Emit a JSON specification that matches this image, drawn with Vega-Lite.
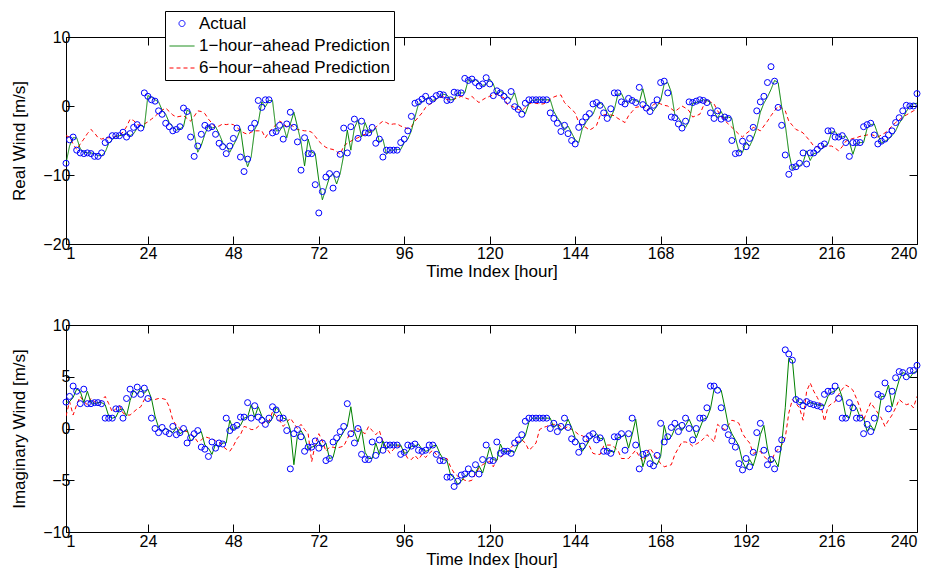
{
"$schema": "https://vega.github.io/schema/vega-lite/v6.json",
"background": "white",
"padding": {"left": 9, "top": 10, "right": 8, "bottom": 5},
"spacing": 36,
"datasets": {
"real": [
{"t":1,"a":-8.3,"g":-8.3,"r":-4.3},{"t":2,"a":-4.9,"g":-5.8,"r":-4.5},{"t":3,"a":-4.5,"g":-4.6,"r":-5.5},{"t":4,"a":-6.4,"g":-4.6,"r":-6.3},{"t":5,"a":-6.8,"g":-6.2,"r":-5.5},
{"t":6,"a":-6.9,"g":-6.7,"r":-4.8},{"t":7,"a":-6.8,"g":-6.8,"r":-4.0},{"t":8,"a":-6.9,"g":-6.8,"r":-3.4},{"t":9,"a":-7.3,"g":-6.9,"r":-3.9},{"t":10,"a":-7.3,"g":-7.2,"r":-4.6},
{"t":11,"a":-6.8,"g":-7.2,"r":-4.8},{"t":12,"a":-5.3,"g":-6.7,"r":-4.6},{"t":13,"a":-4.9,"g":-5.4,"r":-4.6},{"t":14,"a":-4.3,"g":-4.9,"r":-4.6},{"t":15,"a":-4.3,"g":-4.4,"r":-4.4},
{"t":16,"a":-4.3,"g":-4.3,"r":-4.2},{"t":17,"a":-3.8,"g":-4.2,"r":-3.8},{"t":18,"a":-4.5,"g":-3.9,"r":-3.0},{"t":19,"a":-4.0,"g":-4.3,"r":-1.9},{"t":20,"a":-3.1,"g":-4.0,"r":-2.1},
{"t":21,"a":-2.7,"g":-3.2,"r":-2.7},{"t":22,"a":-3.2,"g":-2.8,"r":-2.8},{"t":23,"a":1.9,"g":-3.1,"r":-2.6},{"t":24,"a":1.4,"g":1.5,"r":-2.3},{"t":25,"a":0.9,"g":1.3,"r":-1.9},
{"t":26,"a":0.7,"g":0.9,"r":-1.5},{"t":27,"a":-0.7,"g":0.6,"r":-1.0},{"t":28,"a":-1.2,"g":-0.6,"r":-0.6},{"t":29,"a":-2.5,"g":-1.2,"r":-0.3},{"t":30,"a":-3.0,"g":-2.4,"r":-0.8},
{"t":31,"a":-3.6,"g":-3.0,"r":-1.3},{"t":32,"a":-3.4,"g":-3.5,"r":-1.6},{"t":33,"a":-3.0,"g":-3.3,"r":-1.5},{"t":34,"a":-0.3,"g":-3.0,"r":-1.4},{"t":35,"a":-0.8,"g":-0.6,"r":-1.8},
{"t":36,"a":-4.5,"g":-0.9,"r":-2.2},{"t":37,"a":-7.3,"g":-4.1,"r":-1.5},{"t":38,"a":-5.8,"g":-6.7,"r":-0.7},{"t":39,"a":-4.1,"g":-5.7,"r":-0.8},{"t":40,"a":-2.8,"g":-4.1,"r":-1.1},
{"t":41,"a":-3.2,"g":-2.9,"r":-1.9},{"t":42,"a":-3.0,"g":-3.2,"r":-2.5},{"t":43,"a":-4.1,"g":-3.0,"r":-3.1},{"t":44,"a":-5.4,"g":-4.0,"r":-2.9},{"t":45,"a":-5.9,"g":-5.3,"r":-2.6},
{"t":46,"a":-6.9,"g":-5.8,"r":-2.7},{"t":47,"a":-5.8,"g":-6.7,"r":-2.6},{"t":48,"a":-4.7,"g":-5.7,"r":-2.7},{"t":49,"a":-3.2,"g":-4.7,"r":-3.1},{"t":50,"a":-7.4,"g":-3.3,"r":-3.6},
{"t":51,"a":-9.5,"g":-7.0,"r":-3.9},{"t":52,"a":-7.7,"g":-8.8,"r":-4.1},{"t":53,"a":-3.2,"g":-7.4,"r":-3.8},{"t":54,"a":-2.5,"g":-3.4,"r":-3.6},{"t":55,"a":0.8,"g":-2.4,"r":-3.6},
{"t":56,"a":-0.2,"g":0.6,"r":-3.6},{"t":57,"a":0.9,"g":-0.1,"r":-4.6},{"t":58,"a":0.9,"g":0.8,"r":-3.8},{"t":59,"a":-3.9,"g":0.8,"r":-3.2},{"t":60,"a":-3.7,"g":-3.6,"r":-2.7},
{"t":61,"a":-2.8,"g":-3.6,"r":-2.2},{"t":62,"a":-4.8,"g":-2.8,"r":-2.5},{"t":63,"a":-2.6,"g":-4.6,"r":-3.0},{"t":64,"a":-0.9,"g":-2.6,"r":-2.7},{"t":65,"a":-3.1,"g":-0.9,"r":-3.0},
{"t":66,"a":-5.2,"g":-3.0,"r":-3.4},{"t":67,"a":-9.3,"g":-5.2,"r":-3.5},{"t":68,"a":-4.6,"g":-8.7,"r":-3.6},{"t":69,"a":-6.9,"g":-4.8,"r":-3.6},{"t":70,"a":-6.9,"g":-6.7,"r":-3.8},
{"t":71,"a":-11.4,"g":-6.9,"r":-4.4},{"t":72,"a":-15.5,"g":-10.8,"r":-5.1},{"t":73,"a":-12.4,"g":-13.6,"r":-5.6},{"t":74,"a":-10.3,"g":-12.0,"r":-6.0},{"t":75,"a":-9.8,"g":-10.3,"r":-6.2},
{"t":76,"a":-11.9,"g":-9.8,"r":-6.3},{"t":77,"a":-9.9,"g":-11.3,"r":-6.6},{"t":78,"a":-7.0,"g":-9.8,"r":-7.0},{"t":79,"a":-3.2,"g":-7.1,"r":-5.8},{"t":80,"a":-6.8,"g":-3.5,"r":-5.4},
{"t":81,"a":-3.0,"g":-6.4,"r":-5.1},{"t":82,"a":-1.9,"g":-3.2,"r":-4.8},{"t":83,"a":-4.7,"g":-2.0,"r":-4.6},{"t":84,"a":-2.2,"g":-4.5,"r":-4.3},{"t":85,"a":-3.9,"g":-2.4,"r":-4.1},
{"t":86,"a":-3.9,"g":-3.8,"r":-3.9},{"t":87,"a":-3.1,"g":-3.8,"r":-3.5},{"t":88,"a":-5.4,"g":-3.2,"r":-3.1},{"t":89,"a":-4.8,"g":-5.2,"r":-2.6},{"t":90,"a":-7.4,"g":-4.8,"r":-2.2},
{"t":91,"a":-6.4,"g":-7.0,"r":-2.4},{"t":92,"a":-6.4,"g":-6.4,"r":-2.7},{"t":93,"a":-6.4,"g":-6.4,"r":-2.6},{"t":94,"a":-6.4,"g":-6.3,"r":-2.6},{"t":95,"a":-5.3,"g":-6.3,"r":-2.9},
{"t":96,"a":-4.8,"g":-5.3,"r":-3.1},{"t":97,"a":-3.6,"g":-4.8,"r":-3.3},{"t":98,"a":-1.5,"g":-3.6,"r":-3.0},{"t":99,"a":0.4,"g":-1.6,"r":-2.2},{"t":100,"a":0.6,"g":0.3,"r":-1.6},
{"t":101,"a":1.0,"g":0.6,"r":-1.0},{"t":102,"a":1.4,"g":1.0,"r":-0.2},{"t":103,"a":0.7,"g":1.3,"r":0.2},{"t":104,"a":1.0,"g":0.8,"r":0.5},{"t":105,"a":1.5,"g":1.0,"r":1.0},
{"t":106,"a":1.7,"g":1.5,"r":1.2},{"t":107,"a":1.6,"g":1.7,"r":1.4},{"t":108,"a":0.8,"g":1.6,"r":0.9},{"t":109,"a":0.9,"g":0.9,"r":0.9},{"t":110,"a":2.0,"g":0.9,"r":1.0},
{"t":111,"a":1.9,"g":1.9,"r":1.2},{"t":112,"a":1.9,"g":1.9,"r":1.4},{"t":113,"a":4.0,"g":1.9,"r":1.2},{"t":114,"a":3.7,"g":3.8,"r":1.0},{"t":115,"a":3.9,"g":3.7,"r":1.4},
{"t":116,"a":3.4,"g":3.8,"r":0.9},{"t":117,"a":2.9,"g":3.4,"r":0.5},{"t":118,"a":3.2,"g":3.0,"r":0.9},{"t":119,"a":4.1,"g":3.1,"r":1.2},{"t":120,"a":3.2,"g":3.9,"r":1.4},
{"t":121,"a":1.5,"g":3.2,"r":1.6},{"t":122,"a":2.2,"g":1.7,"r":1.7},{"t":123,"a":1.9,"g":2.1,"r":1.4},{"t":124,"a":1.4,"g":1.9,"r":1.2},{"t":125,"a":0.8,"g":1.4,"r":0.2},
{"t":126,"a":2.1,"g":0.9,"r":0.0},{"t":127,"a":-0.1,"g":1.9,"r":-0.2},{"t":128,"a":-0.5,"g":0.0,"r":-0.5},{"t":129,"a":-1.2,"g":-0.5,"r":-0.7},{"t":130,"a":0.4,"g":-1.1,"r":-0.2},
{"t":131,"a":0.9,"g":0.3,"r":0.3},{"t":132,"a":0.9,"g":0.8,"r":0.5},{"t":133,"a":0.9,"g":0.9,"r":0.4},{"t":134,"a":0.9,"g":0.9,"r":0.3},{"t":135,"a":0.9,"g":0.9,"r":0.3},
{"t":136,"a":0.9,"g":0.9,"r":0.5},{"t":137,"a":-1.0,"g":0.9,"r":1.0},{"t":138,"a":-1.8,"g":-0.8,"r":1.3},{"t":139,"a":-2.5,"g":-1.7,"r":1.5},{"t":140,"a":-3.7,"g":-2.4,"r":1.6},
{"t":141,"a":-2.8,"g":-3.5,"r":0.5},{"t":142,"a":-4.0,"g":-2.9,"r":0.0},{"t":143,"a":-5.0,"g":-3.9,"r":-0.5},{"t":144,"a":-5.5,"g":-4.9,"r":-1.0},{"t":145,"a":-3.1,"g":-5.3,"r":-2.4},
{"t":146,"a":-2.3,"g":-3.3,"r":-2.9},{"t":147,"a":-1.6,"g":-2.4,"r":-3.1},{"t":148,"a":-1.1,"g":-1.7,"r":-3.5},{"t":149,"a":0.3,"g":-1.2,"r":-3.2},{"t":150,"a":0.5,"g":0.1,"r":-2.8},
{"t":151,"a":0.1,"g":0.4,"r":-1.4},{"t":152,"a":-1.0,"g":0.1,"r":-1.3},{"t":153,"a":-1.8,"g":-0.9,"r":-1.2},{"t":154,"a":-0.4,"g":-1.7,"r":-1.3},{"t":155,"a":1.9,"g":-0.5,"r":-1.4},
{"t":156,"a":1.9,"g":1.7,"r":-1.8},{"t":157,"a":0.6,"g":1.8,"r":-2.1},{"t":158,"a":0.3,"g":0.7,"r":-2.4},{"t":159,"a":1.1,"g":0.4,"r":-1.4},{"t":160,"a":0.8,"g":1.0,"r":-0.8},
{"t":161,"a":0.5,"g":0.8,"r":-0.2},{"t":162,"a":2.7,"g":0.5,"r":-0.1},{"t":163,"a":0.2,"g":2.5,"r":0.0},{"t":164,"a":-0.3,"g":0.3,"r":-0.6},{"t":165,"a":-0.8,"g":-0.2,"r":-0.3},
{"t":166,"a":0.1,"g":-0.7,"r":0.2},{"t":167,"a":0.9,"g":0.0,"r":0.5},{"t":168,"a":3.4,"g":0.8,"r":0.3},{"t":169,"a":3.6,"g":3.2,"r":0.1},{"t":170,"a":1.9,"g":3.4,"r":0.0},
{"t":171,"a":-1.6,"g":2.0,"r":-0.4},{"t":172,"a":-1.7,"g":-1.3,"r":-0.8},{"t":173,"a":-2.6,"g":-1.7,"r":-0.4},{"t":174,"a":-3.2,"g":-2.5,"r":0.0},{"t":175,"a":-2.2,"g":-3.1,"r":-0.3},
{"t":176,"a":0.6,"g":-2.2,"r":-0.7},{"t":177,"a":0.5,"g":0.4,"r":-1.6},{"t":178,"a":0.7,"g":0.5,"r":-1.4},{"t":179,"a":0.9,"g":0.7,"r":-1.2},{"t":180,"a":0.8,"g":0.9,"r":0.0},
{"t":181,"a":0.5,"g":0.8,"r":1.0},{"t":182,"a":-1.0,"g":0.5,"r":0.6},{"t":183,"a":-1.8,"g":-0.9,"r":0.3},{"t":184,"a":-0.7,"g":-1.7,"r":-0.7},{"t":185,"a":-1.9,"g":-0.8,"r":-1.4},
{"t":186,"a":-1.6,"g":-1.8,"r":-2.1},{"t":187,"a":-1.8,"g":-1.6,"r":-2.6},{"t":188,"a":-5.0,"g":-1.8,"r":-3.1},{"t":189,"a":-6.9,"g":-4.6,"r":-3.6},{"t":190,"a":-6.8,"g":-6.6,"r":-4.1},
{"t":191,"a":-5.1,"g":-6.7,"r":-4.5},{"t":192,"a":-5.9,"g":-5.2,"r":-4.0},{"t":193,"a":-4.7,"g":-5.8,"r":-3.6},{"t":194,"a":-3.1,"g":-4.7,"r":-3.1},{"t":195,"a":-0.7,"g":-3.2,"r":-3.3},
{"t":196,"a":0.6,"g":-0.9,"r":-3.6},{"t":197,"a":1.4,"g":0.4,"r":-2.9},{"t":198,"a":3.4,"g":1.3,"r":-2.2},{"t":199,"a":5.7,"g":2.4,"r":-1.4},{"t":200,"a":3.6,"g":3.7,"r":-0.7},
{"t":201,"a":-0.2,"g":3.4,"r":0.0},{"t":202,"a":-2.8,"g":-0.1,"r":-0.3},{"t":203,"a":-7.1,"g":-2.7,"r":-0.7},{"t":204,"a":-9.9,"g":-6.7,"r":-2.2},{"t":205,"a":-8.9,"g":-9.2,"r":-2.8},
{"t":206,"a":-8.8,"g":-8.7,"r":-3.4},{"t":207,"a":-8.3,"g":-8.7,"r":-3.6},{"t":208,"a":-6.8,"g":-8.2,"r":-3.9},{"t":209,"a":-8.4,"g":-6.5,"r":-4.5},{"t":210,"a":-6.8,"g":-7.9,"r":-5.1},
{"t":211,"a":-6.8,"g":-6.9,"r":-5.8},{"t":212,"a":-6.3,"g":-6.8,"r":-5.9},{"t":213,"a":-5.8,"g":-6.3,"r":-6.0},{"t":214,"a":-5.5,"g":-5.8,"r":-5.9},{"t":215,"a":-3.6,"g":-5.5,"r":-5.8},
{"t":216,"a":-3.6,"g":-3.8,"r":-5.8},{"t":217,"a":-4.5,"g":-3.7,"r":-6.1},{"t":218,"a":-4.5,"g":-4.4,"r":-6.5},{"t":219,"a":-4.3,"g":-4.5,"r":-5.9},{"t":220,"a":-5.3,"g":-4.3,"r":-5.1},
{"t":221,"a":-7.3,"g":-5.2,"r":-4.9},{"t":222,"a":-5.3,"g":-7.0,"r":-4.7},{"t":223,"a":-5.3,"g":-5.4,"r":-4.6},{"t":224,"a":-5.3,"g":-5.3,"r":-4.4},{"t":225,"a":-3.0,"g":-5.3,"r":-4.3},
{"t":226,"a":-2.7,"g":-3.2,"r":-4.2},{"t":227,"a":-2.5,"g":-2.7,"r":-4.1},{"t":228,"a":-4.2,"g":-2.6,"r":-4.3},{"t":229,"a":-5.5,"g":-4.1,"r":-4.5},{"t":230,"a":-5.1,"g":-5.4,"r":-4.2},
{"t":231,"a":-4.8,"g":-5.1,"r":-3.9},{"t":232,"a":-4.2,"g":-4.8,"r":-3.4},{"t":233,"a":-3.6,"g":-4.3,"r":-2.9},{"t":234,"a":-2.4,"g":-3.6,"r":-2.4},{"t":235,"a":-1.7,"g":-2.5,"r":-2.0},
{"t":236,"a":-0.7,"g":-1.8,"r":-1.6},{"t":237,"a":0.1,"g":-0.8,"r":-1.3},{"t":238,"a":0.0,"g":0.0,"r":-1.0},{"t":239,"a":0.0,"g":0.3,"r":-0.7},{"t":240,"a":1.8,"g":0.4,"r":-0.5}
],
"imag": [
{"t":1,"a":2.55,"g":2.5,"r":1.2},{"t":2,"a":3.1,"g":2.6,"r":2.6},{"t":3,"a":4.1,"g":3.0,"r":1.3},{"t":4,"a":3.6,"g":3.8,"r":2.3},{"t":5,"a":2.4,"g":3.6,"r":3.1},
{"t":6,"a":3.8,"g":2.5,"r":2.6},{"t":7,"a":2.4,"g":3.6,"r":2.3},{"t":8,"a":2.4,"g":2.5,"r":2.9},{"t":9,"a":2.5,"g":2.4,"r":2.6},{"t":10,"a":2.5,"g":2.5,"r":2.4},
{"t":11,"a":2.4,"g":2.5,"r":2.7},{"t":12,"a":1.0,"g":2.3,"r":3.1},{"t":13,"a":1.0,"g":1.2,"r":2.4},{"t":14,"a":1.0,"g":1.0,"r":1.6},{"t":15,"a":1.9,"g":1.1,"r":1.9},
{"t":16,"a":1.9,"g":1.8,"r":2.2},{"t":17,"a":1.0,"g":1.9,"r":1.5},{"t":18,"a":2.9,"g":1.2,"r":1.3},{"t":19,"a":3.8,"g":2.7,"r":1.3},{"t":20,"a":3.3,"g":3.7,"r":1.6},
{"t":21,"a":4.0,"g":3.3,"r":1.9},{"t":22,"a":3.3,"g":3.9,"r":2.1},{"t":23,"a":3.9,"g":3.4,"r":2.8},{"t":24,"a":2.9,"g":3.8,"r":2.9},{"t":25,"a":1.0,"g":2.9,"r":2.8},
{"t":26,"a":0.0,"g":1.2,"r":2.8},{"t":27,"a":-0.4,"g":0.1,"r":2.9},{"t":28,"a":0.1,"g":-0.3,"r":2.9},{"t":29,"a":-0.3,"g":0.0,"r":2.8},{"t":30,"a":-0.5,"g":-0.2,"r":2.1},
{"t":31,"a":0.2,"g":-0.4,"r":0.8},{"t":32,"a":-0.6,"g":0.1,"r":0.3},{"t":33,"a":-0.4,"g":-0.5,"r":0.0},{"t":34,"a":0.0,"g":-0.3,"r":-0.2},{"t":35,"a":-1.4,"g":-0.1,"r":-0.3},
{"t":36,"a":-0.9,"g":-1.2,"r":-0.5},{"t":37,"a":-0.5,"g":-0.9,"r":-0.8},{"t":38,"a":-0.2,"g":-0.5,"r":-1.3},{"t":39,"a":-1.8,"g":-0.3,"r":-1.1},{"t":40,"a":-2.0,"g":-1.6,"r":-0.8},
{"t":41,"a":-2.7,"g":-1.9,"r":-0.9},{"t":42,"a":-1.3,"g":-2.5,"r":-1.0},{"t":43,"a":-1.9,"g":-1.5,"r":-1.2},{"t":44,"a":-1.4,"g":-1.8,"r":-1.3},{"t":45,"a":-1.5,"g":-1.4,"r":-1.7},
{"t":46,"a":1.0,"g":-1.4,"r":-2.0},{"t":47,"a":-0.2,"g":0.8,"r":-2.2},{"t":48,"a":0.1,"g":-0.1,"r":-1.7},{"t":49,"a":0.3,"g":0.1,"r":-1.0},{"t":50,"a":1.1,"g":0.3,"r":-0.6},
{"t":51,"a":1.1,"g":1.0,"r":0.2},{"t":52,"a":2.5,"g":1.1,"r":0.1},{"t":53,"a":1.0,"g":2.3,"r":-0.1},{"t":54,"a":2.2,"g":1.1,"r":-0.1},{"t":55,"a":1.1,"g":2.1,"r":0.2},
{"t":56,"a":0.8,"g":1.2,"r":0.5},{"t":57,"a":0.4,"g":0.8,"r":0.6},{"t":58,"a":1.0,"g":0.5,"r":0.7},{"t":59,"a":2.1,"g":1.0,"r":1.6},{"t":60,"a":1.8,"g":2.0,"r":1.2},
{"t":61,"a":1.0,"g":1.7,"r":0.8},{"t":62,"a":1.0,"g":1.0,"r":0.2},{"t":63,"a":-0.2,"g":0.9,"r":0.6},{"t":64,"a":-3.9,"g":-0.1,"r":1.0},{"t":65,"a":-0.5,"g":-3.5,"r":0.5},
{"t":66,"a":-0.1,"g":-0.7,"r":0.0},{"t":67,"a":-0.8,"g":-0.2,"r":0.4},{"t":68,"a":-2.2,"g":-0.8,"r":-0.1},{"t":69,"a":-1.8,"g":-2.0,"r":-0.5},{"t":70,"a":-1.8,"g":-1.8,"r":-3.2},
{"t":71,"a":-1.2,"g":-1.7,"r":-1.5},{"t":72,"a":-1.9,"g":-1.2,"r":-0.5},{"t":73,"a":-1.4,"g":-1.8,"r":-1.2},{"t":74,"a":-3.1,"g":-1.4,"r":-2.2},{"t":75,"a":-2.9,"g":-2.9,"r":-1.8},
{"t":76,"a":-1.3,"g":-2.8,"r":-1.8},{"t":77,"a":-0.9,"g":-1.4,"r":-1.9},{"t":78,"a":-0.3,"g":-0.9,"r":-1.8},{"t":79,"a":0.2,"g":-0.3,"r":-1.7},{"t":80,"a":2.4,"g":0.2,"r":-1.0},
{"t":81,"a":-0.5,"g":2.1,"r":-0.3},{"t":82,"a":-1.4,"g":-0.3,"r":-0.2},{"t":83,"a":0.0,"g":-1.3,"r":0.0},{"t":84,"a":-2.5,"g":-0.1,"r":-0.3},{"t":85,"a":-3.0,"g":-2.3,"r":-0.5},
{"t":86,"a":-3.0,"g":-2.9,"r":0.2},{"t":87,"a":-1.3,"g":-2.9,"r":-0.2},{"t":88,"a":-2.6,"g":-1.4,"r":-0.6},{"t":89,"a":-1.1,"g":-2.5,"r":-0.2},{"t":90,"a":-2.1,"g":-1.2,"r":-1.3},
{"t":91,"a":-1.6,"g":-2.0,"r":-1.9},{"t":92,"a":-1.6,"g":-1.6,"r":-2.4},{"t":93,"a":-1.6,"g":-1.6,"r":-2.0},{"t":94,"a":-1.6,"g":-1.6,"r":-1.7},{"t":95,"a":-2.5,"g":-1.6,"r":-1.7},
{"t":96,"a":-2.3,"g":-2.4,"r":-2.3},{"t":97,"a":-1.6,"g":-2.3,"r":-2.9},{"t":98,"a":-1.7,"g":-1.7,"r":-3.0},{"t":99,"a":-1.5,"g":-1.7,"r":-2.6},{"t":100,"a":-2.1,"g":-1.5,"r":-3.0},
{"t":101,"a":-2.2,"g":-2.0,"r":-2.5},{"t":102,"a":-2.1,"g":-2.2,"r":-2.8},{"t":103,"a":-1.6,"g":-2.1,"r":-2.4},{"t":104,"a":-1.6,"g":-1.7,"r":-2.1},{"t":105,"a":-2.5,"g":-1.6,"r":-2.5},
{"t":106,"a":-3.1,"g":-2.4,"r":-2.9},{"t":107,"a":-3.1,"g":-3.0,"r":-2.9},{"t":108,"a":-4.7,"g":-3.1,"r":-2.9},{"t":109,"a":-4.7,"g":-4.5,"r":-3.7},{"t":110,"a":-5.6,"g":-4.7,"r":-4.3},
{"t":111,"a":-5.1,"g":-5.4,"r":-4.6},{"t":112,"a":-4.5,"g":-5.1,"r":-4.8},{"t":113,"a":-4.4,"g":-4.6,"r":-5.0},{"t":114,"a":-3.9,"g":-4.4,"r":-5.1},{"t":115,"a":-4.4,"g":-4.0,"r":-5.0},
{"t":116,"a":-3.5,"g":-4.3,"r":-4.4},{"t":117,"a":-4.4,"g":-3.6,"r":-3.8},{"t":118,"a":-3.0,"g":-4.3,"r":-3.5},{"t":119,"a":-1.6,"g":-3.1,"r":-3.3},{"t":120,"a":-3.1,"g":-1.8,"r":-3.2},
{"t":121,"a":-3.1,"g":-3.0,"r":-3.7},{"t":122,"a":-1.3,"g":-3.1,"r":-3.0},{"t":123,"a":-2.4,"g":-1.5,"r":-2.8},{"t":124,"a":-2.2,"g":-2.3,"r":-2.5},{"t":125,"a":-2.2,"g":-2.2,"r":-2.2},
{"t":126,"a":-2.4,"g":-2.2,"r":-1.8},{"t":127,"a":-1.4,"g":-2.3,"r":-1.5},{"t":128,"a":-1.1,"g":-1.5,"r":-1.3},{"t":129,"a":-0.6,"g":-1.2,"r":-1.1},{"t":130,"a":0.7,"g":-0.7,"r":-1.4},
{"t":131,"a":1.0,"g":0.6,"r":-2.1},{"t":132,"a":1.0,"g":1.0,"r":-1.8},{"t":133,"a":1.0,"g":1.0,"r":-1.4},{"t":134,"a":1.0,"g":1.0,"r":-0.1},{"t":135,"a":1.0,"g":1.0,"r":0.1},
{"t":136,"a":1.0,"g":1.0,"r":0.2},{"t":137,"a":0.0,"g":1.0,"r":0.4},{"t":138,"a":0.5,"g":0.1,"r":0.4},{"t":139,"a":-0.3,"g":0.4,"r":0.4},{"t":140,"a":0.2,"g":-0.2,"r":0.2},
{"t":141,"a":1.0,"g":0.1,"r":0.0},{"t":142,"a":0.1,"g":0.9,"r":0.2},{"t":143,"a":-1.0,"g":0.1,"r":-0.1},{"t":144,"a":-1.3,"g":-0.9,"r":-0.3},{"t":145,"a":-2.3,"g":-1.3,"r":-0.6},
{"t":146,"a":-1.7,"g":-2.2,"r":-0.7},{"t":147,"a":-1.0,"g":-1.7,"r":-0.9},{"t":148,"a":-0.7,"g":-1.1,"r":-1.7},{"t":149,"a":-0.5,"g":-0.8,"r":-2.4},{"t":150,"a":-1.1,"g":-0.5,"r":-2.5},
{"t":151,"a":-0.9,"g":-1.0,"r":-2.5},{"t":152,"a":-2.2,"g":-0.9,"r":-1.7},{"t":153,"a":-2.2,"g":-2.1,"r":-1.6},{"t":154,"a":-2.4,"g":-2.2,"r":-1.6},{"t":155,"a":-0.8,"g":-2.3,"r":-1.8},
{"t":156,"a":-0.8,"g":-0.9,"r":-2.1},{"t":157,"a":-0.5,"g":-0.8,"r":-2.9},{"t":158,"a":-2.1,"g":-0.6,"r":-2.9},{"t":159,"a":-0.5,"g":-1.9,"r":-2.9},{"t":160,"a":1.0,"g":-0.6,"r":-2.5},
{"t":161,"a":-1.6,"g":0.9,"r":-2.1},{"t":162,"a":-3.9,"g":-1.4,"r":-2.7},{"t":163,"a":-2.5,"g":-3.7,"r":-3.2},{"t":164,"a":-2.4,"g":-2.6,"r":-2.5},{"t":165,"a":-3.4,"g":-2.4,"r":-1.9},
{"t":166,"a":-3.6,"g":-3.3,"r":-2.4},{"t":167,"a":-2.6,"g":-3.5,"r":-2.9},{"t":168,"a":0.5,"g":-2.7,"r":-3.4},{"t":169,"a":-1.3,"g":0.3,"r":-3.7},{"t":170,"a":-0.8,"g":-1.1,"r":-3.6},
{"t":171,"a":0.1,"g":-0.8,"r":-3.5},{"t":172,"a":0.5,"g":0.0,"r":-2.5},{"t":173,"a":-0.3,"g":0.4,"r":-1.9},{"t":174,"a":0.3,"g":-0.2,"r":-1.3},{"t":175,"a":1.0,"g":0.3,"r":-1.3},
{"t":176,"a":0.0,"g":0.9,"r":-1.4},{"t":177,"a":-1.1,"g":0.1,"r":-1.7},{"t":178,"a":0.0,"g":-0.9,"r":-1.5},{"t":179,"a":1.0,"g":0.0,"r":-1.3},{"t":180,"a":1.0,"g":0.9,"r":-1.0},
{"t":181,"a":2.0,"g":1.0,"r":-0.6},{"t":182,"a":4.1,"g":1.9,"r":-0.9},{"t":183,"a":4.1,"g":3.8,"r":-1.3},{"t":184,"a":3.7,"g":4.0,"r":0.4},{"t":185,"a":2.0,"g":3.7,"r":0.1},
{"t":186,"a":0.1,"g":2.1,"r":-0.1},{"t":187,"a":-0.6,"g":0.3,"r":0.3},{"t":188,"a":-1.2,"g":-0.5,"r":0.8},{"t":189,"a":-1.8,"g":-1.1,"r":0.7},{"t":190,"a":-3.4,"g":-1.7,"r":0.5},
{"t":191,"a":-4.0,"g":-3.2,"r":-0.5},{"t":192,"a":-2.9,"g":-3.9,"r":-1.0},{"t":193,"a":-3.7,"g":-3.0,"r":-1.4},{"t":194,"a":-2.3,"g":-3.6,"r":-2.4},{"t":195,"a":-0.4,"g":-2.4,"r":-2.3},
{"t":196,"a":0.5,"g":-0.6,"r":-2.2},{"t":197,"a":-2.1,"g":0.3,"r":-2.7},{"t":198,"a":-3.5,"g":-1.9,"r":-3.0},{"t":199,"a":-3.0,"g":-3.3,"r":-3.3},{"t":200,"a":-3.9,"g":-3.0,"r":-2.4},
{"t":201,"a":-2.0,"g":-3.7,"r":-2.0},{"t":202,"a":-1.1,"g":-1.5,"r":-1.6},{"t":203,"a":7.6,"g":2.0,"r":-0.9},{"t":204,"a":7.2,"g":6.8,"r":1.5},{"t":205,"a":6.6,"g":6.6,"r":2.8},
{"t":206,"a":2.8,"g":2.8,"r":2.4},{"t":207,"a":2.6,"g":2.5,"r":2.0},{"t":208,"a":2.2,"g":2.5,"r":0.8},{"t":209,"a":2.6,"g":2.3,"r":3.6},{"t":210,"a":2.4,"g":2.5,"r":4.4},
{"t":211,"a":2.3,"g":2.4,"r":3.6},{"t":212,"a":2.2,"g":2.3,"r":3.0},{"t":213,"a":2.1,"g":2.2,"r":2.3},{"t":214,"a":3.3,"g":2.2,"r":0.7},{"t":215,"a":3.6,"g":3.1,"r":2.1},
{"t":216,"a":3.6,"g":3.5,"r":2.4},{"t":217,"a":4.1,"g":3.6,"r":2.6},{"t":218,"a":2.9,"g":4.0,"r":3.3},{"t":219,"a":1.0,"g":3.0,"r":3.8},{"t":220,"a":1.0,"g":1.2,"r":4.2},
{"t":221,"a":2.5,"g":1.0,"r":4.0},{"t":222,"a":2.0,"g":2.4,"r":3.7},{"t":223,"a":1.0,"g":2.0,"r":2.9},{"t":224,"a":1.0,"g":1.1,"r":2.0},{"t":225,"a":-0.5,"g":1.0,"r":0.8},
{"t":226,"a":0.4,"g":-0.3,"r":1.7},{"t":227,"a":-0.3,"g":0.3,"r":2.5},{"t":228,"a":1.0,"g":-0.2,"r":2.0},{"t":229,"a":3.3,"g":0.9,"r":1.5},{"t":230,"a":3.1,"g":3.1,"r":1.0},
{"t":231,"a":4.4,"g":3.1,"r":0.2},{"t":232,"a":1.9,"g":4.2,"r":0.8},{"t":233,"a":3.6,"g":2.1,"r":1.3},{"t":234,"a":4.9,"g":3.5,"r":2.0},{"t":235,"a":5.5,"g":4.7,"r":2.8},
{"t":236,"a":5.4,"g":5.4,"r":2.5},{"t":237,"a":5.0,"g":5.3,"r":2.3},{"t":238,"a":5.6,"g":4.9,"r":2.4},{"t":239,"a":5.6,"g":5.4,"r":2.0},{"t":240,"a":6.1,"g":5.5,"r":3.1}
]
},
"resolve": {"legend": {"color": "independent", "shape": "independent", "size": "independent", "strokeDash": "independent"}},
"vconcat": [
{
"width": 851, "height": 207,
"data": {"name": "real"},
"resolve": {"axis": {"x": "independent", "y": "independent"}},
"layer": [
{"mark": {"type": "line", "strokeWidth": 1, "clip": true},
 "encoding": {
  "x": {"field": "t", "type": "quantitative", "scale": {"domain": [1, 240], "nice": false, "zero": false},
        "axis": {"orient": "top", "values": [1,24,48,72,96,120,144,168,192,216,240], "labels": false, "title": null, "tickSize": -8}},
  "y": {"field": "r", "type": "quantitative", "scale": {"domain": [-20, 10], "nice": false, "zero": false},
        "axis": {"orient": "right", "values": [-20,-10,0,10], "labels": false, "title": null, "tickSize": -8}},
  "color": {"datum": "6−hour−ahead Prediction",
            "scale": {"domain": ["Actual", "1−hour−ahead Prediction", "6−hour−ahead Prediction"], "range": ["#0000ff", "#008000", "#ff0000"]},
            "legend": {"orient": "none", "legendX": 99, "legendY": -26, "title": null, "labelLimit": 400}},
  "strokeDash": {"datum": "6−hour−ahead Prediction",
            "scale": {"domain": ["Actual", "1−hour−ahead Prediction", "6−hour−ahead Prediction"], "range": [[1,0],[1,0],[4,3]]},
            "legend": {"orient": "none", "legendX": 99, "legendY": -26, "title": null, "labelLimit": 400}}
 }},
{"mark": {"type": "line", "strokeWidth": 1, "clip": true},
 "encoding": {
  "x": {"field": "t", "type": "quantitative", "scale": {"domain": [1, 240], "nice": false, "zero": false},
        "axis": {"orient": "bottom", "values": [1,24,48,72,96,120,144,168,192,216,240], "title": "Time Index [hour]", "tickSize": -8}},
  "y": {"field": "g", "type": "quantitative", "scale": {"domain": [-20, 10], "nice": false, "zero": false},
        "axis": {"orient": "left", "values": [-20,-10,0,10], "title": "Real Wind [m/s]", "tickSize": -8, "titleX": -38, "titleY": 103.5}},
  "color": {"datum": "1−hour−ahead Prediction"},
  "strokeDash": {"datum": "1−hour−ahead Prediction"}
 }},
{"mark": {"type": "point", "filled": false, "strokeWidth": 1, "opacity": 1},
 "encoding": {
  "x": {"field": "t", "type": "quantitative", "axis": null},
  "y": {"field": "a", "type": "quantitative", "axis": null},
  "color": {"datum": "Actual"},
  "shape": {"datum": "Actual",
            "scale": {"domain": ["Actual", "1−hour−ahead Prediction", "6−hour−ahead Prediction"], "range": ["circle", "stroke", "stroke"]},
            "legend": {"orient": "none", "legendX": 99, "legendY": -26, "title": null, "labelLimit": 400}},
  "size": {"datum": "Actual",
            "scale": {"type": "ordinal", "domain": ["Actual", "1−hour−ahead Prediction", "6−hour−ahead Prediction"], "range": [36, 625, 625]},
            "legend": {"orient": "none", "legendX": 99, "legendY": -26, "title": null, "labelLimit": 400}}
 }}
]
},
{
"width": 851, "height": 207,
"data": {"name": "imag"},
"resolve": {"axis": {"x": "independent", "y": "independent"}},
"layer": [
{"mark": {"type": "line", "strokeWidth": 1, "clip": true, "color": "#ff0000", "strokeDash": [4,3]},
 "encoding": {
  "x": {"field": "t", "type": "quantitative", "scale": {"domain": [1, 240], "nice": false, "zero": false},
        "axis": {"orient": "top", "values": [1,24,48,72,96,120,144,168,192,216,240], "labels": false, "title": null, "tickSize": -8}},
  "y": {"field": "r", "type": "quantitative", "scale": {"domain": [-10, 10], "nice": false, "zero": false},
        "axis": {"orient": "right", "values": [-10,-5,0,5,10], "labels": false, "title": null, "tickSize": -8}}
 }},
{"mark": {"type": "line", "strokeWidth": 1, "clip": true, "color": "#008000"},
 "encoding": {
  "x": {"field": "t", "type": "quantitative", "scale": {"domain": [1, 240], "nice": false, "zero": false},
        "axis": {"orient": "bottom", "values": [1,24,48,72,96,120,144,168,192,216,240], "title": "Time Index [hour]", "tickSize": -8}},
  "y": {"field": "g", "type": "quantitative", "scale": {"domain": [-10, 10], "nice": false, "zero": false},
        "axis": {"orient": "left", "values": [-10,-5,0,5,10], "title": "Imaginary Wind [m/s]", "tickSize": -8, "titleX": -38, "titleY": 103.5}}
 }},
{"mark": {"type": "point", "filled": false, "strokeWidth": 1, "opacity": 1, "color": "#0000ff", "size": 36},
 "encoding": {
  "x": {"field": "t", "type": "quantitative", "axis": null},
  "y": {"field": "a", "type": "quantitative", "axis": null}
 }}
]
}
],
"config": {
  "view": {"stroke": "black", "strokeWidth": 1},
  "font": "Liberation Sans",
  "axis": {"labelFont": "Liberation Sans", "labelFontSize": 16, "titleFont": "Liberation Sans", "titleFontSize": 17, "titleFontWeight": "normal",
           "labelColor": "black", "titleColor": "black", "tickColor": "black", "tickWidth": 1, "domain": false, "grid": false,
           "labelPadding": 9, "titlePadding": 2},
  "axisY": {"labelPadding": 4},
  "legend": {"fillColor": "white", "strokeColor": "black", "padding": 4, "labelFontSize": 17, "labelFont": "Liberation Sans",
             "labelColor": "black", "rowPadding": 1, "symbolStrokeWidth": 1, "labelOffset": 4, "labelLimit": 400}
}
}
